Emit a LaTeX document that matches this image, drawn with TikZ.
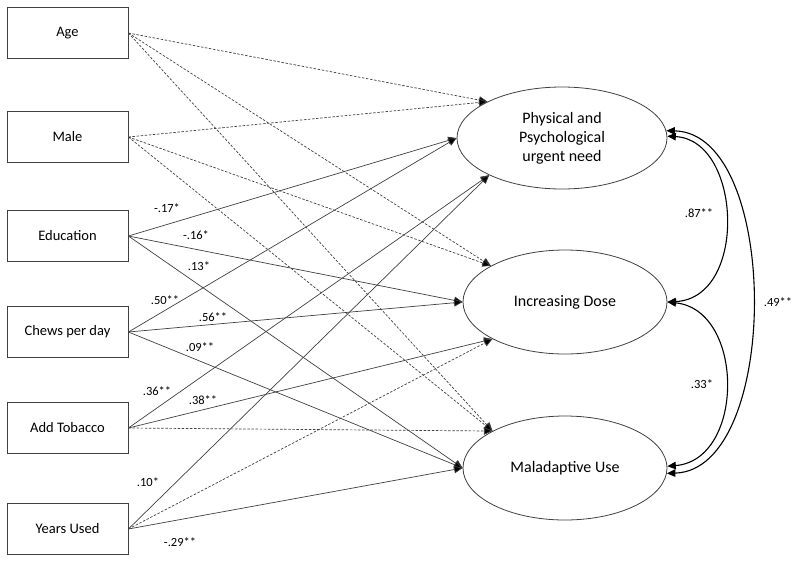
\documentclass[tikz,border=0pt]{standalone}
\usepackage{fontspec}
\setmainfont{Carlito}
\usetikzlibrary{arrows.meta,shapes.geometric}
\begin{document}
\begin{tikzpicture}[x=1pt,y=-1pt,
  obsbox/.style={draw=black!75,line width=0.8pt,minimum width=121pt,minimum height=51pt,inner sep=0pt,font=\fontsize{14.5}{17}\selectfont},
  latent/.style={ellipse,draw=black!75,line width=0.8pt,inner sep=0pt,align=center,font=\fontsize{16}{19}\selectfont},
  sigpath/.style={draw=black!75,line width=0.7pt,-{Triangle[length=8.5pt,width=7.5pt,fill=black]}},
  nspath/.style={sigpath,dash pattern=on 2.5pt off 1.6pt},
  cov/.style={draw=black,line width=1.1pt,{Triangle[length=8.5pt,width=7.5pt]}-{Triangle[length=8.5pt,width=7.5pt]}},
  coef/.style={inner sep=0pt,font=\fontsize{12.5}{14}\selectfont}]
\useasboundingbox (0,0) rectangle (800,563);
% observed
\node[obsbox] (age) at (67.5,33) {Age};
\node[obsbox] (male) at (67.5,137) {Male};
\node[obsbox] (edu) at (67.5,236) {Education};
\node[obsbox] (chew) at (67.5,332) {Chews per day};
\node[obsbox] (tob) at (67.5,428) {Add Tobacco};
\node[obsbox] (yrs) at (67.5,529) {Years Used};
% latent
\node[latent,minimum width=210pt,minimum height=102pt] (phys) at (562,138) {Physical and\\Psychological\\urgent need};
\node[latent,minimum width=204pt,minimum height=104pt] (dose) at (565,302) {Increasing Dose};
\node[latent,minimum width=204pt,minimum height=104pt] (mal) at (565,468) {Maladaptive Use};
% paths
\draw[nspath] (age.east) -- (phys.154);
\draw[nspath] (age.east) -- (dose.154);
\draw[nspath] (age.east) -- (mal.153);
\draw[nspath] (male.east) -- (phys.154);
\draw[nspath] (male.east) -- (dose.154);
\draw[nspath] (male.east) -- (mal.153);
\draw[sigpath] (edu.east) -- (phys.west);
\draw[sigpath] (edu.east) -- (dose.west);
\draw[sigpath] (edu.east) -- (mal.west);
\draw[sigpath] (chew.east) -- (phys.west);
\draw[sigpath] (chew.east) -- (dose.west);
\draw[sigpath] (chew.east) -- (mal.west);
\draw[sigpath] (tob.east) -- (phys.207);
\draw[sigpath] (tob.east) -- (dose.207);
\draw[nspath] (tob.east) -- (mal.153);
\draw[sigpath] (yrs.east) -- (phys.207);
\draw[nspath] (yrs.east) -- (dose.207);
\draw[sigpath] (yrs.east) -- (mal.west);
% coefficients
\node[coef] (c1) at (167,208) {-.17*};
\node[coef] (c2) at (196,235) {-.16*};
\node[coef] (c3) at (199,266) {.13*};
\node[coef] (c4) at (165,300) {.50**};
\node[coef] (c5) at (213,317) {.56**};
\node[coef] (c6) at (200,347) {.09**};
\node[coef] (c7) at (157,391) {.36**};
\node[coef] (c8) at (203,400) {.38**};
\node[coef] (c9) at (148,482) {.10*};
\node[coef] (c10) at (180,542) {-.29**};
% covariances
\draw[cov] (phys.1) .. controls (742,140) and (748,298) .. (dose.east);
\draw[cov] (dose.east) .. controls (745,310) and (745,460) .. (mal.1);
\draw[cov] (phys.4) .. controls (781,133) and (781,470) .. (mal.-3);
\node[coef] (r1) at (699,213) {.87**};
\node[coef] (r2) at (702,384) {.33*};
\node[coef] (r3) at (778,302) {.49**};
\end{tikzpicture}
\end{document}
